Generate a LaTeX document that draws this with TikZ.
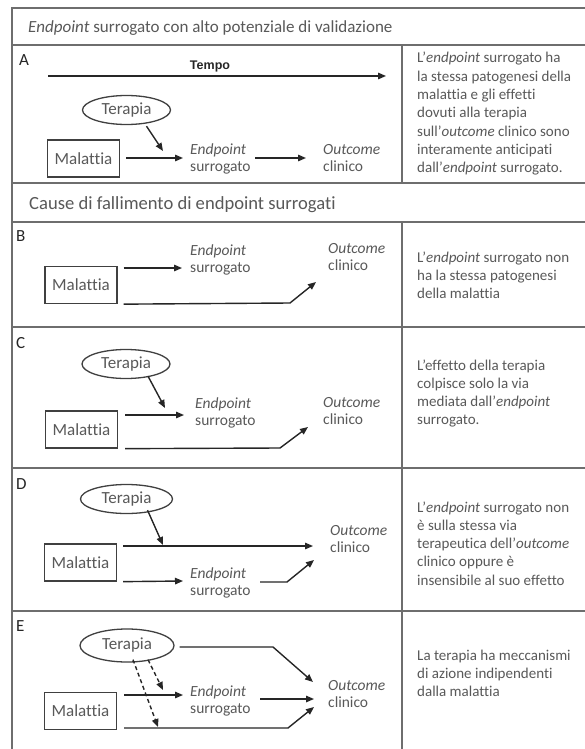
\documentclass[tikz,border=0pt]{standalone}
\usepackage{fontspec}
\setmainfont{Carlito}[Ligatures={NoCommon,NoRare}]
\newfontfamily\tempofont{Liberation Sans}
\usetikzlibrary{shapes.geometric,arrows.meta}
\definecolor{txt}{HTML}{595959}
\definecolor{frm}{HTML}{6E6E6E}
\definecolor{bx}{HTML}{404040}
\definecolor{ark}{HTML}{262626}
\newcommand\mylines[2]{\vtop{\baselineskip=#1\lineskiplimit=-20pt\lineskip=0pt\halign{##\hfil\cr#2\crcr}}}
\begin{document}
\begin{tikzpicture}[x=1pt,y=-1pt,
  frame/.style={draw=frm,line width=1.5pt},
  arr/.style={draw=ark,line width=1.4pt,-{Triangle[length=8pt,width=6.5pt]}},
  lnk/.style={draw=ark,line width=1.4pt},
  darr/.style={arr,dash pattern=on 4pt off 3pt},
  malbox/.style={draw=bx,line width=1.3pt,minimum width=72pt,minimum height=37pt,inner sep=0pt,font=\fontsize{17}{20}\selectfont,text=txt},
  terell/.style={ellipse,draw=bx,line width=1.3pt,minimum width=88pt,minimum height=29pt,inner sep=0pt,font=\fontsize{17}{20}\selectfont,text=txt},
  lab/.style={anchor=base west,inner sep=0pt,font=\fontsize{15.5}{17.5}\selectfont,text=txt},
  desc/.style={anchor=base west,inner sep=0pt,font=\fontsize{15}{18.3}\selectfont,text=txt},
  letter/.style={anchor=base west,inner sep=0pt,font=\fontsize{17}{19}\selectfont,text=ark},
  head/.style={anchor=base west,inner sep=0pt,font=\fontsize{17}{20}\selectfont,text=txt}]
\useasboundingbox (0,0) rectangle (585,749);
\fill[white] (0,0) rectangle (585,749);
% frame
\draw[frame] (12,749) -- (12,8) -- (585,8);
\draw[frame] (12,45) -- (585,45);
\draw[frame] (12,183) -- (585,183);
\draw[frame] (12,222) -- (585,222);
\draw[frame] (12,327) -- (585,327);
\draw[frame] (12,468) -- (585,468);
\draw[frame] (12,611) -- (585,611);
\draw[frame] (402,45) -- (402,183);
\draw[frame] (402,222) -- (402,749);
% headers
\node[head] (t1) at (28,33) {\emph{Endpoint} surrogato con alto potenziale di validazione};
\node[head,font=\fontsize{18.6}{21}\selectfont] (t2) at (29,209) {Cause di fallimento di endpoint surrogati};
% letters
\node[letter] (lA) at (19,66) {A};
\node[letter] (lB) at (16,241) {B};
\node[letter] (lC) at (16,348) {C};
\node[letter] (lD) at (16,489) {D};
\node[letter] (lE) at (16,631) {E};
% descriptions
\node[desc] (dA) at (417,63) {\mylines{18.3pt}{L’\emph{endpoint} surrogato ha\cr la stessa patogenesi della\cr malattia e gli effetti\cr dovuti alla terapia\cr sull’\emph{outcome} clinico sono\cr interamente anticipati\cr dall’\emph{endpoint} surrogato.}};
\node[desc] (dB) at (417,262) {\mylines{18.3pt}{L’\emph{endpoint} surrogato non\cr ha la stessa patogenesi\cr della malattia}};
\node[desc] (dC) at (417,370) {\mylines{18.3pt}{L’effetto della terapia\cr colpisce solo la via\cr mediata dall’\emph{endpoint}\cr surrogato.}};
\node[desc] (dD) at (417,512) {\mylines{18.3pt}{L’\emph{endpoint} surrogato non\cr è sulla stessa via\cr terapeutica dell’\emph{outcome}\cr clinico oppure è\cr insensibile al suo effetto}};
\node[desc] (dE) at (417,660) {\mylines{18.3pt}{La terapia ha meccanismi\cr di azione indipendenti\cr dalla malattia}};

% ---------- A ----------
\node[anchor=base,inner sep=0pt,font=\tempofont\bfseries\fontsize{12.5}{14}\selectfont,text=ark] (tempo) at (210,70) {Tempo};
\coordinate (tA0) at (48,76);
\coordinate (tA1) at (386,76);
\draw[arr] (tA0) -- (tA1);
\node[terell] (terA) at (126.5,110) {Terapia};
\node[malbox] (malA) at (83.5,158.5) {Malattia};
\node[lab] (epA) at (190,154) {\mylines{17.5pt}{\emph{Endpoint}\cr surrogato}};
\node[lab] (ocA) at (323,154) {\mylines{17.5pt}{\emph{Outcome}\cr clinico}};
\coordinate (aA1) at (183,158);
\coordinate (aA2) at (163,151);
\coordinate (aA3) at (255,158);
\coordinate (aA4) at (306,158);
\draw[arr] (malA.east |- aA1) ++(6,0) -- (aA1);
\draw[arr] (terA.south) ++(20,1) -- (aA2);
\draw[arr] (aA3) -- (aA4);

% ---------- B ----------
\node[malbox] (malB) at (81,285) {Malattia};
\node[lab] (epB) at (190,255) {\mylines{17.5pt}{\emph{Endpoint}\cr surrogato}};
\node[lab] (ocB) at (328,253) {\mylines{17.5pt}{\emph{Outcome}\cr clinico}};
\coordinate (bB1) at (182,268);
\coordinate (bB2) at (290,303);
\coordinate (bB3) at (316,282);
\draw[arr] ([xshift=6pt]malB.east |- bB1) -- (bB1);
\draw[arr] ([xshift=6pt]malB.south east) -- (bB2) -- (bB3);

% ---------- C ----------
\node[terell] (terC) at (126,364) {Terapia};
\node[malbox] (malC) at (81.5,429.5) {Malattia};
\node[lab] (epC) at (195,408) {\mylines{17.5pt}{\emph{Endpoint}\cr surrogato}};
\node[lab] (ocC) at (323,407) {\mylines{17.5pt}{\emph{Outcome}\cr clinico}};
\coordinate (cC1) at (184,415);
\coordinate (cC2) at (165,408);
\coordinate (cC3) at (280,448);
\coordinate (cC4) at (308,427);
\draw[arr] ([xshift=7pt]malC.east |- cC1) -- (cC1);
\draw[arr] ([xshift=22pt,yshift=3pt]terC.south) -- (cC2);
\draw[arr] ([xshift=7pt]malC.south east) -- (cC3) -- (cC4);

% ---------- D ----------
\node[terell,minimum width=92pt] (terD) at (126.5,499) {Terapia};
\node[malbox] (malD) at (80.5,562.5) {Malattia};
\node[lab] (ocD) at (330,535) {\mylines{17.5pt}{\emph{Outcome}\cr clinico}};
\node[lab] (epD) at (190,578) {\mylines{17.5pt}{\emph{Endpoint}\cr surrogato}};
\coordinate (dD1) at (313,546);
\coordinate (dD2) at (163,545);
\coordinate (dD3) at (183,581);
\coordinate (dD4) at (260,582);
\coordinate (dD5) at (287,582);
\coordinate (dD6) at (314,560);
\draw[arr] ([xshift=6pt]malD.east |- dD1) -- (dD1);
\draw[arr] ([xshift=21pt,yshift=4pt]terD.south) -- (dD2);
\draw[arr] ([xshift=6pt]malD.south east) -- (dD3);
\draw[arr] (dD4) -- (dD5) -- (dD6);

% ---------- E ----------
\node[terell,minimum width=94pt,minimum height=33pt] (terE) at (127,645.5) {Terapia};
\node[malbox] (malE) at (80.5,711) {Malattia};
\node[lab] (epE) at (190,696) {\mylines{17.5pt}{\emph{Endpoint}\cr surrogato}};
\node[lab] (ocE) at (328,690) {\mylines{17.5pt}{\emph{Outcome}\cr clinico}};
\coordinate (eE1) at (273,647);
\coordinate (eE2) at (313,682);
\coordinate (eE3) at (183,695);
\coordinate (eE4) at (260,699);
\coordinate (eE5) at (314,699);
\coordinate (eE6) at (288,728);
\coordinate (eE7) at (314,707);
\coordinate (eE8) at (163,690);
\coordinate (eE9) at (158,727);
\draw[arr] ([xshift=5pt]terE.east |- eE1) -- (eE1) -- (eE2);
\draw[arr] ([xshift=7pt]malE.east |- eE3) -- (eE3);
\draw[arr] (eE4) -- (eE5);
\draw[arr] ([xshift=7pt]malE.south east |- eE6) -- (eE6) -- (eE7);
\draw[darr] ([xshift=21pt,yshift=3pt]terE.south) -- (eE8);
\draw[darr] ([xshift=6pt,yshift=3pt]terE.south) -- (eE9);
\end{tikzpicture}
\end{document}
